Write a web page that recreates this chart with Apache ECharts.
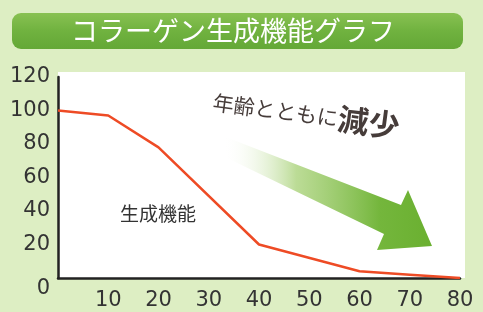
<!DOCTYPE html>
<html>
<head>
<meta charset="utf-8">
<script src="https://cdn.jsdelivr.net/npm/echarts@6/dist/echarts.min.js"></script>
<style>
    html, body { margin: 0; padding: 0; background: #ddeec3; }
    #chart { width: 483px; height: 312px; }
</style>
</head>
<body>
<div id="chart"></div>
<script>
// 年齢と生成機能
const ageList = [0, 10, 20, 40, 60, 70, 80]
const valueList = [100, 97, 78, 20, 4, 2, 0]
const xTicks = [10, 20, 30, 40, 50, 60, 70, 80]
const yTicks = [0, 20, 40, 60, 80, 100, 120]

const TITLE = 'コラーゲン生成機能グラフ'
const SERIES_NAME = '生成機能'

const chart = echarts.init(document.getElementById('chart'))

const seriesData = ageList.map((age, i) => [age, valueList[i]])

const option = {
    backgroundColor: '#ddeec3',
    animation: false,
    textStyle: { fontFamily: 'DejaVu Sans, sans-serif' },
    grid: {
        left: 58,
        right: 23,
        top: 77,
        bottom: 34,
        containLabel: false,
    },
    xAxis: {
        type: 'value',
        min: 0,
        max: 80,
        interval: 10,
        axisLine: { show: true, lineStyle: { color: '#222', width: 2.5 } },
        axisTick: { show: false },
        splitLine: { show: false },
        axisLabel: {
            margin: 12,
            fontSize: 21,
            fontFamily: 'DejaVu Sans',
            color: '#333',
            formatter: (v) => (xTicks.includes(v) ? String(v) : ''),
        },
    },
    yAxis: {
        type: 'value',
        min: 0,
        max: 120,
        interval: 20,
        axisLine: { show: true, lineStyle: { color: '#222', width: 2.5 } },
        axisTick: { show: false },
        splitLine: { show: false },
        axisLabel: {
            margin: 8,
            fontSize: 21,
            fontFamily: 'DejaVu Sans',
            color: '#333',
            formatter: (v) => (v === 0 ? '{z|0}' : yTicks.includes(v) ? String(v) : ''),
            rich: {
                z: { fontSize: 21, fontFamily: 'DejaVu Sans', color: '#333', padding: [22, 0, 0, 0] },
            },
        },
    },
    graphic: [
        // 白い描画エリア
        {
            type: 'rect',
            z: -10,
            shape: { x: 58, y: 72, width: 407, height: 206 },
            style: { fill: '#ffffff' },
        },
        // タイトルバー
        {
            type: 'rect',
            shape: { x: 12, y: 13, width: 451, height: 36, r: 9 },
            style: {
                fill: new echarts.graphic.LinearGradient(0, 0, 0, 1, [
                    { offset: 0, color: '#88c152' },
                    { offset: 0.5, color: '#70b23f' },
                    { offset: 1, color: '#64a836' },
                ]),
            },
        },
        {
            type: 'text',
            x: 233,
            y: 31,
            style: {
                text: TITLE,
                fill: '#ffffff',
                align: 'center',
                verticalAlign: 'middle',
                font: '27px "Noto Sans CJK JP"',
            },
        },
        // 矢印
        {
            type: 'polygon',
            z: 1,
            shape: {
                points: [
                    [223, 136], [401, 205], [408, 190], [432, 246],
                    [377, 250], [384, 234], [227, 158],
                ],
            },
            style: {
                fill: new echarts.graphic.LinearGradient(0, 0, 1, 0, [
                    { offset: 0, color: 'rgba(255,255,255,0)' },
                    { offset: 0.35, color: 'rgba(165,208,115,0.75)' },
                    { offset: 0.75, color: '#74b63c' },
                    { offset: 1, color: '#6ab030' },
                ]),
            },
        },
        // 注記
        {
            type: 'text',
            x: 213,
            y: 102,
            rotation: -0.13,
            z: 2,
            style: {
                text: '{a|年齢とともに}{b|減少}',
                verticalAlign: 'middle',
                rich: {
                    a: { font: '21px "Noto Sans CJK JP"', fill: '#463c3a', color: '#463c3a' },
                    b: { font: 'bold 31px "Noto Sans CJK JP"', fill: '#463c3a', color: '#463c3a' },
                },
            },
        },
        {
            type: 'text',
            left: 120,
            top: 204,
            z: 2,
            style: {
                text: SERIES_NAME,
                fill: '#333',
                font: '19px "Noto Sans CJK JP"',
            },
        },
    ],
    series: [
        {
            name: SERIES_NAME,
            type: 'line',
            symbol: 'none',
            z: 3,
            lineStyle: { color: '#ee4b25', width: 2.5 },
            data: seriesData,
        },
    ],
}

chart.setOption(option)
</script>
</body>
</html>
